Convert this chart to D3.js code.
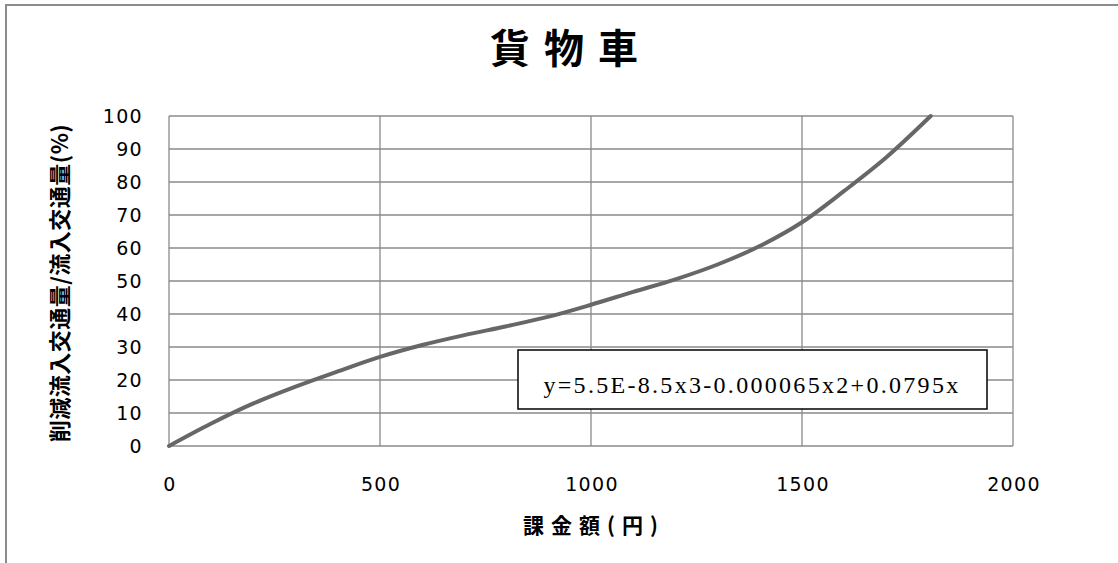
<!DOCTYPE html>
<html lang="ja">
<head>
<meta charset="utf-8">
<title>貨物車</title>
<script src="https://cdn.jsdelivr.net/npm/d3@7"></script>
<style>
    body { margin: 0; background: #fff; }
    .grid line { stroke: #8a8a8a; stroke-width: 1.3px; }
    .tick-label { font-family: "DejaVu Sans", sans-serif; font-size: 19px; letter-spacing: 1.3px; fill: #000; }
    .cjk { font-family: "Noto Sans CJK JP", sans-serif; font-weight: 700; fill: #000; }
</style>
</head>
<body>
<script>
// values
var chartTitle = "貨物車";
var xTitle = "課金額(円)";
var yTitle = "削減流入交通量/流入交通量(%)";
var equation = "y=5.5E-8.5x3-0.000065x2+0.0795x";

var xTicks = [0, 500, 1000, 1500, 2000];
var yTicks = [0, 10, 20, 30, 40, 50, 60, 70, 80, 90, 100];

var charge = [0, 100, 200, 300, 400, 500, 600, 700, 800, 900, 1000, 1100, 1200, 1300, 1400, 1500, 1600, 1700, 1805];
var reduction = [0, 6.8, 12.9, 18.0, 22.6, 27.0, 30.6, 33.6, 36.3, 39.2, 42.8, 46.7, 50.5, 55.0, 60.6, 67.8, 77.3, 87.5, 100];

var width = 1118,
    height = 563;

var svg = d3.select("body").append("svg")
    .attr("width", width)
    .attr("height", height);

// outer chart frame (cropped on right and bottom)
svg.append("rect")
    .attr("x", 6)
    .attr("y", 5)
    .attr("width", 1200)
    .attr("height", 700)
    .attr("fill", "none")
    .attr("stroke", "#8c8c8c")
    .attr("stroke-width", 2);

var x = d3.scaleLinear().domain([0, 2000]).range([169, 1013]);
var y = d3.scaleLinear().domain([0, 100]).range([446, 116]);

//Grid

var grid = svg.append("g").attr("class", "grid");

grid.selectAll("line.h")
    .data(yTicks)
    .enter().append("line")
    .attr("class", "h")
    .attr("x1", x(0)).attr("x2", x(2000))
    .attr("y1", function(d) { return y(d); })
    .attr("y2", function(d) { return y(d); });

grid.selectAll("line.v")
    .data(xTicks)
    .enter().append("line")
    .attr("class", "v")
    .attr("y1", y(0)).attr("y2", y(100))
    .attr("x1", function(d) { return x(d); })
    .attr("x2", function(d) { return x(d); });

//Tick labels

svg.selectAll("text.ylab")
    .data(yTicks)
    .enter().append("text")
    .attr("class", "tick-label ylab")
    .attr("x", 143)
    .attr("y", function(d) { return y(d); })
    .attr("dy", "0.36em")
    .attr("text-anchor", "end")
    .text(function(d) { return d; });

svg.selectAll("text.xlab")
    .data(xTicks)
    .enter().append("text")
    .attr("class", "tick-label xlab")
    .attr("x", function(d) { return x(d) + 1; })
    .attr("y", 491)
    .attr("text-anchor", "middle")
    .text(function(d) { return d; });

//Curve

var line = d3.line()
    .x(function(d, i) { return x(charge[i]); })
    .y(function(d) { return y(d); })
    .curve(d3.curveMonotoneX);

svg.append("path")
    .datum(reduction)
    .attr("d", line)
    .attr("fill", "none")
    .attr("stroke", "#676767")
    .attr("stroke-width", 4)
    .attr("stroke-linecap", "round");

//Equation box

svg.append("rect")
    .attr("x", 518)
    .attr("y", 350)
    .attr("width", 469)
    .attr("height", 59)
    .attr("fill", "#fff")
    .attr("stroke", "#000")
    .attr("stroke-width", 1.5);

svg.append("text")
    .attr("x", 752)
    .attr("y", 393)
    .attr("text-anchor", "middle")
    .style("font-family", "'Liberation Serif', serif")
    .style("font-size", "24px")
    .style("letter-spacing", "2.3px")
    .text(equation);

//Titles

svg.append("text")
    .attr("class", "cjk")
    .attr("x", 571)
    .attr("y", 63)
    .attr("text-anchor", "middle")
    .style("font-size", "40px")
    .style("letter-spacing", "14px")
    .text(chartTitle);

svg.append("text")
    .attr("class", "cjk")
    .attr("x", 594)
    .attr("y", 533)
    .attr("text-anchor", "middle")
    .style("font-size", "21px")
    .style("letter-spacing", "7px")
    .text(xTitle);

svg.append("text")
    .attr("class", "cjk")
    .attr("transform", "translate(68,283) rotate(-90)")
    .attr("text-anchor", "middle")
    .style("font-size", "22px")
    .style("letter-spacing", "0.5px")
    .text(yTitle);
</script>
</body>
</html>
